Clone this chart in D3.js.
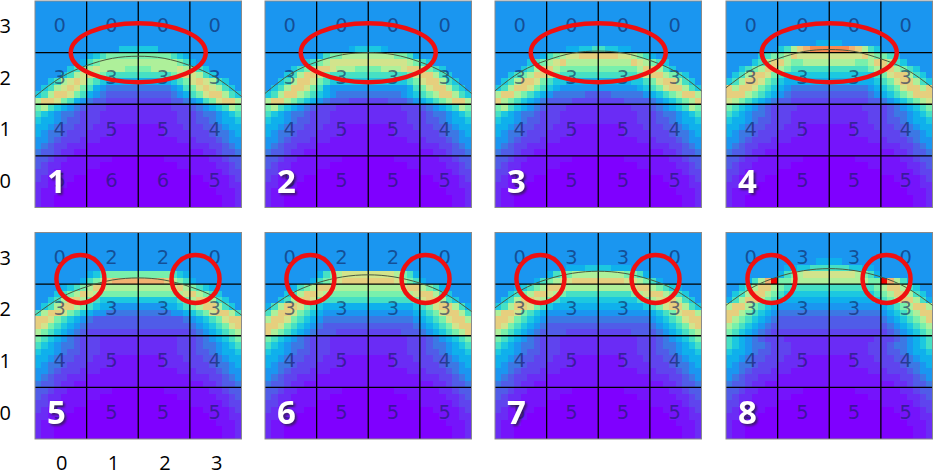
<!DOCTYPE html>
<html>
<head>
<meta charset="utf-8">
<script src="https://d3js.org/d3.v7.min.js"></script>
<style>
  body { margin: 0; background: #fff; }
  svg { display: block; }
  .tick text { font-family: "Open Sans", sans-serif; font-size: 20px; fill: #000; }
  .score { font-family: "DejaVu Sans", sans-serif; font-size: 19.5px; fill: #10205a; fill-opacity: 0.6; text-anchor: middle; }
  .panel-no { font-family: "Open Sans", sans-serif; font-size: 33px; font-weight: 700; fill: #fff; text-anchor: middle;
    filter: drop-shadow(2px 2px 1px rgba(40, 30, 60, 0.7)); }
</style>
</head>
<body>
<svg id="chart"></svg>
<script>
// colour levels used by the heat rows below
const levelLetters = "abcdefghijklmnopqr".split("");
const levelColors = ["#7f00ff", "#7514fb", "#6a2cf5", "#5f44ee", "#505ce8", "#3c78e4", "#1a96f0", "#0fb0ec", "#1cc8e0",
  "#46e0c4", "#78f0ac", "#aef09a", "#d2e48c", "#e6cf7e", "#f2b070", "#f58a50", "#f26030", "#ee0000"];

const ticks = [0, 1, 2, 3];
const fineSteps = d3.range(32);
const curveSteps = [0, 0.5, 1, 1.5, 2, 2.5, 3, 3.5, 4];

// left half of rows 4 to 16, right half is the mirror of it
const rows1 = ["gggggggggggggggg", "gggggggggggggggg", "gggggggggggggggg", "gggggggggggggiii", "gggggggghijkkkkk",
  "ggggggghjkllllll", "gggggijklmllllkk", "ggggijlmnlkjjjjj", "ggijlmnmkjihhhhh", "gijlmnmkjhgfffff",
  "ijlnnmkjhgfeeeee", "lnnmkjhgfeeddddd", "kljihgfedddccccc"];
const rows2 = ["gggggggggggggggg", "gggggggggggggggg", "gggggggggggggggg", "ggggggggggggghii", "gggggggghjkkllll",
  "ggggggijklmmmmmm", "ggggijklnnmlllkk", "gggijlnnmkjjjjjj", "ggijlnnmkjiiiiii", "gijlnnmkjhgggggg",
  "ijlnnlkjihgfffff", "lnnlkjihgfeeeddd", "kljihgfedddccccc"];
const rows3 = ["gggggggggggggggg", "gggggggggggggggg", "gggggggggggggggg", "ggggggggggghhiij", "ggggggghjklmmnnn",
  "gggggijklmnlllll", "ggggijlnnlkkkkkk", "ggijklnnmkjjjjjj", "gijlnnmkjiihhhhh", "ijlnnmkjihgggggg",
  "lnnlkjihgfffffee", "nlkjihgfeeeedddd", "kljihgfedddccccc"];
const rows4 = ["gggggggggggggggg", "gggggggggggggggg", "gggggggggggggghh", "ggggggggijlnoppp", "gggggijkklnmmmmm",
  "ggggijlnnlkkllll", "ggijklnnlkjjjjjj", "gijlnnmkjiiiiiii", "ijlnnmkjihhhhhhh", "nlnnmkjihgffffff",
  "nnnlkjihgfeeeeee", "mlkjihgfeedddddd", "kjihgfeddddccccc"];
const rows5 = ["gggggggggggggggg", "gggggggggggggggg", "gggggggghijkkkkk", "ggggggghjklnoooo", "gggghijklnmlllll",
  "gggijklnmlkkkkkk", "ggijlnnlkjiiiiii", "gijlnnlkjihhgggg", "jlnnmkjihggfffff", "nnmkjihgfeeeeeee",
  "nmkjihgfeeeeeeee", "lkjihgfedddddddd", "kjihgfedddcccccc"];
const rows6 = ["gggggggggggggggg", "gggggggggggggggg", "gggggggghjklmmmm", "ggggggghjklmnnnn", "gggghjklnnmlllll",
  "gggijlnnmlkkkkkk", "ggijlnnmkjjjjjjj", "hjlnnmkjihhhhhhh", "jlnnmkjihggggggg", "lnnmkjihgfffffff",
  "nnmkjihgfeeeeeee", "nlkjihgfeeeddddd", "kjihgfedddcccccc"];
const rows7 = ["gggggggggggggggg", "ggggggggggghhhii", "gggggggghjkkllll", "gggggghjklmmnnnn", "ggghijklnnmlllll",
  "ggijklnnmlkjjjjj", "gijlnnmlkjiiiiii", "ijlnnmkjihhhhhhh", "lnnmkjihgggggggg", "nnmkjihgffffffff",
  "nmkjihgfeeeeeeee", "lkjihgfeeeeddddd", "kjihgfedddcccccc"];
const rows8 = ["gggggggggggggghh", "ggggggggghhiijjj", "gggggggghjklmmmm", "ggghjlorkkllllll", "ggijlnnlkjjjjjjj",
  "gijlnnlkjiiiiiii", "hjlnnlkjihhhhhhh", "lnnlkjihgggggggg", "nnlkjihgffffffff", "nlkjihgfeeeeeeee",
  "lkjihgfeeeeeeeee", "kjihgfeddddddddd", "jihgfedddccccccc"];
const topRows = ["gggggggggggggggg", "gggggggggggggggg", "gggggggggggggggg", "gggggggggggggggg"];
const lowerRows = ["jihgffedddcccccc", "ihhgfeedddcccccc", "hhgfeedddcccbbbb", "hgffedddccccbbbb", "ggfedddcccbbbbbb",
  "gfeddcccbbbbbbbb", "feedccbbbbbbbbbb", "eedccbbbbbbbaaaa", "edccbbbbbbaaaaaa", "ddcbbbbbaaaaaaaa",
  "dcbbbbaaaaaaaaaa", "ccbbbaaaaaaaaaaa", "cbbbaaaaaaaaaaaa", "cbbaaaaaaaaaaaaa", "cbbaaaaaaaaaaaaa"];

// numbers printed in the cells, top row first
const scoresA = [[0, 0, 0, 0], [3, 3, 3, 3], [4, 5, 5, 4], [5, 6, 6, 5]];
const scoresB = [[0, 0, 0, 0], [3, 3, 3, 3], [4, 5, 5, 4], [5, 5, 5, 5]];
const scoresC = [[0, 2, 2, 0], [3, 3, 3, 3], [4, 5, 5, 4], [5, 5, 5, 5]];
const scoresD = [[0, 3, 3, 0], [3, 3, 3, 3], [4, 5, 5, 4], [5, 5, 5, 5]];

// height of the thin curve at curveSteps
const curve1 = [2.15, 2.52, 2.75, 2.89, 2.93, 2.89, 2.75, 2.52, 2.15];
const curve2 = [2.21, 2.59, 2.82, 2.96, 3.00, 2.96, 2.82, 2.59, 2.21];
const curve3 = [2.26, 2.63, 2.85, 2.99, 3.03, 2.99, 2.85, 2.63, 2.26];
const curve4 = [2.32, 2.67, 2.88, 3.02, 3.06, 3.02, 2.88, 2.67, 2.32];
const curve5 = [2.40, 2.74, 2.95, 3.08, 3.12, 3.08, 2.95, 2.74, 2.40];
const curve6 = [2.47, 2.81, 3.02, 3.14, 3.18, 3.14, 3.02, 2.81, 2.47];
const curve7 = [2.54, 2.88, 3.09, 3.21, 3.25, 3.21, 3.09, 2.88, 2.54];
const curve8 = [2.59, 2.93, 3.14, 3.26, 3.30, 3.26, 3.14, 2.93, 2.59];

const panels = [
  { no: 1, rows: rows1, scores: scoresA, curve: curve1 },
  { no: 2, rows: rows2, scores: scoresB, curve: curve2 },
  { no: 3, rows: rows3, scores: scoresB, curve: curve3 },
  { no: 4, rows: rows4, scores: scoresB, curve: curve4 },
  { no: 5, rows: rows5, scores: scoresC, curve: curve5 },
  { no: 6, rows: rows6, scores: scoresC, curve: curve6 },
  { no: 7, rows: rows7, scores: scoresD, curve: curve7 },
  { no: 8, rows: rows8, scores: scoresD, curve: curve8 }
];

const size = 206.5;
const lefts = [35, 265, 495, 726];
const tops = [1, 232.5];

const svg = d3.select("#chart").attr("width", 934).attr("height", 470);

const color = d3.scaleOrdinal().domain(levelLetters).range(levelColors);
const fine = d3.scaleBand().domain(fineSteps).range([0, size]);
const cellX = d3.scaleBand().domain(ticks).range([0, size]);
const cellY = d3.scaleBand().domain(ticks.slice().reverse()).range([0, size]);
const gridX = d3.scaleLinear().domain([0, 4]).range([0, size]);
const gridY = d3.scaleLinear().domain([0, 4]).range([size, 0]);

const line = d3.line()
  .x(function(d) { return gridX(d.x); })
  .y(function(d) { return gridY(d.y); })
  .curve(d3.curveNatural);

panels.forEach(function(p, i) {
  const g = svg.append("g")
    .attr("transform", "translate(" + lefts[i % 4] + "," + tops[Math.floor(i / 4)] + ")");

  // fine heat cells
  const allRows = topRows.concat(p.rows, lowerRows);
  allRows.forEach(function(row, r) {
    const full = (row + row.split("").reverse().join("")).split("");
    g.append("g").selectAll("rect")
      .data(full)
      .enter()
      .append("rect")
      .attr("x", function(d, c) { return fine(c); })
      .attr("y", fine(r))
      .attr("width", fine.bandwidth())
      .attr("height", fine.bandwidth())
      .attr("shape-rendering", "crispEdges")
      .style("fill", function(d) { return color(d); });
  });

  // numbers
  p.scores.forEach(function(row, r) {
    g.append("g").selectAll("text")
      .data(row)
      .enter()
      .append("text")
      .attr("class", "score")
      .attr("x", function(d, c) { return cellX(c) + cellX.bandwidth() / 2 - 1; })
      .attr("y", cellY(3 - r) + cellY.bandwidth() / 2 + 5.5)
      .text(function(d) { return d; });
  });

  // black grid
  g.append("g").selectAll("line")
    .data(ticks.slice(1))
    .enter()
    .append("line")
    .attr("x1", function(d) { return gridX(d); })
    .attr("x2", function(d) { return gridX(d); })
    .attr("y1", 0)
    .attr("y2", size)
    .style("stroke", "#000")
    .style("stroke-width", 1.3);
  g.append("g").selectAll("line")
    .data(ticks.slice(1))
    .enter()
    .append("line")
    .attr("x1", 0)
    .attr("x2", size)
    .attr("y1", function(d) { return gridY(d); })
    .attr("y2", function(d) { return gridY(d); })
    .style("stroke", "#000")
    .style("stroke-width", 1.3);

  g.append("rect")
    .attr("width", size)
    .attr("height", size)
    .style("fill", "none")
    .style("stroke", "#8a8a8a")
    .style("stroke-width", 1);

  g.append("path")
    .datum(curveSteps.map(function(x, k) { return { x: x, y: p.curve[k] }; }))
    .attr("d", line)
    .style("fill", "none")
    .style("stroke", "#4a5a40")
    .style("stroke-width", 1);

  // red marks: one oval on the top row, two circles on the bottom row
  if (i < 4) {
    g.append("ellipse")
      .attr("cx", gridX(2))
      .attr("cy", gridY(3))
      .attr("rx", 67.5)
      .attr("ry", 29.5)
      .style("fill", "none")
      .style("stroke", "#f01010")
      .style("stroke-width", 4.5);
  } else {
    g.selectAll("circle")
      .data([0.88, 3.11])
      .enter()
      .append("circle")
      .attr("cx", function(d) { return gridX(d); })
      .attr("cy", gridY(3.1))
      .attr("r", 24)
      .style("fill", "none")
      .style("stroke", "#f01010")
      .style("stroke-width", 4.5);
  }

  g.append("text")
    .attr("class", "panel-no")
    .attr("x", 21.5)
    .attr("y", size - 15)
    .text(p.no);
});

// axes only on the first column and under panel 5
tops.forEach(function(t) {
  const y = d3.scaleBand().domain(ticks.slice().reverse()).range([t, t + size]);
  svg.append("g")
    .attr("transform", "translate(11,0)")
    .call(d3.axisLeft(y).tickSize(0).tickPadding(0))
    .call(function(a) { a.select(".domain").remove(); });
});

const x = d3.scaleBand().domain(ticks).range([lefts[0], lefts[0] + size]);
svg.append("g")
  .attr("transform", "translate(1,456)")
  .call(d3.axisBottom(x).tickSize(0).tickPadding(0))
  .call(function(a) { a.select(".domain").remove(); });
</script>
</body>
</html>
